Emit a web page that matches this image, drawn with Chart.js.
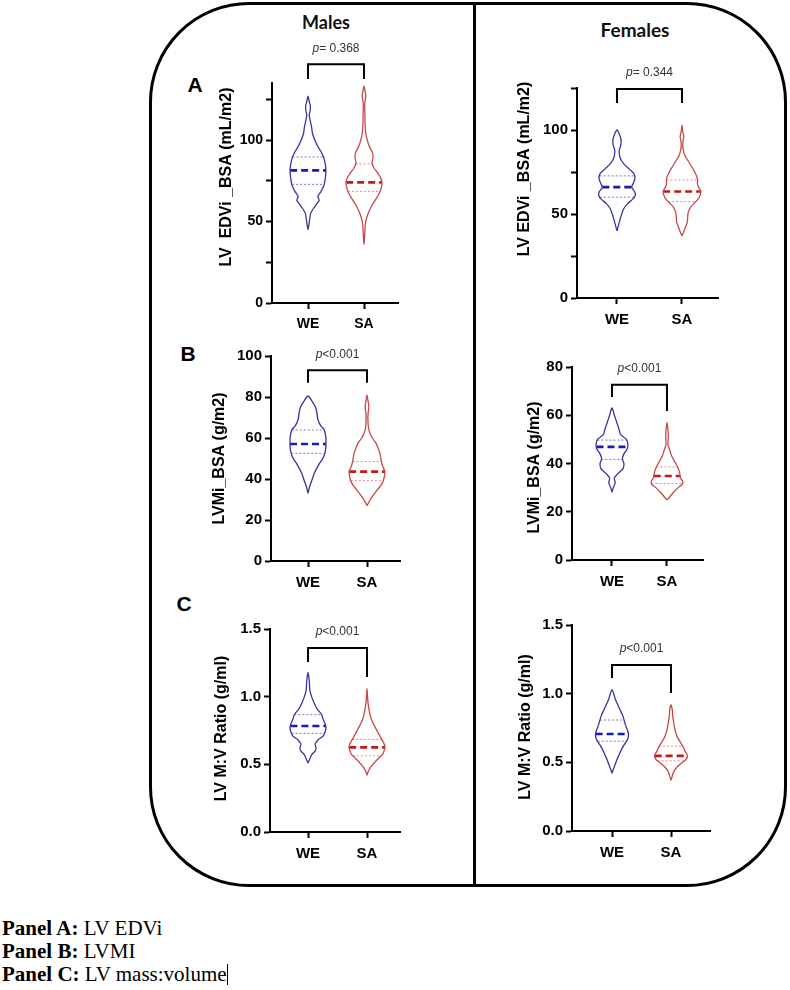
<!DOCTYPE html>
<html><head><meta charset="utf-8">
<script src="https://cdn.jsdelivr.net/npm/chart.js@4.4.1/dist/chart.umd.min.js"></script>
<style>
html,body{margin:0;padding:0;background:#fff;}
#page{position:relative;width:790px;height:990px;overflow:hidden;background:#fff;}
#frame{position:absolute;left:149px;top:2px;width:638px;height:885px;border:3px solid #000;border-radius:100px;box-sizing:border-box;}
#divider{position:absolute;left:473px;top:3px;width:2.5px;height:883px;background:#000;}
.hdr{position:absolute;font-family:Lato,"Open Sans",sans-serif;font-weight:700;color:#111;transform:translate(-50%,-50%);white-space:nowrap;}
.letter{position:absolute;font-family:"Liberation Sans",Arial,sans-serif;font-weight:700;font-size:21px;transform:translate(-50%,-50%);color:#000;}
canvas{position:absolute;}
#notes{position:absolute;left:2px;top:917px;font-family:"Liberation Serif","Times New Roman",serif;font-size:21px;line-height:23px;color:#000;white-space:nowrap;}
.caret{display:inline-block;width:1px;height:21px;background:#000;vertical-align:-4px;}
</style></head>
<body>
<div id="page">
  <div id="frame"></div>
  <div id="divider"></div>
  <div class="hdr" style="left:326px;top:22px;font-size:18px;">Males</div>
  <div class="hdr" style="left:635px;top:29px;font-size:19px;">Females</div>
  <div class="letter" style="left:195px;top:85px;">A</div>
  <div class="letter" style="left:188px;top:354px;">B</div>
  <div class="letter" style="left:184px;top:604px;">C</div>
  <div id="notes"><b>Panel A:</b> LV EDVi<br><b>Panel B:</b> LVMI<br><b>Panel C:</b> LV mass:volume<span class="caret"></span></div>
</div>
<script>
// ---------- DATA ----------
const groups = ['WE', 'SA'];

// violin outlines: [value, relative density width]
const maleA_WE = [[45,0],[48,0.05],[52,0.1],[55,0.15],[58,0.3],[61,0.5],[63,0.62],[65.5,0.55],[68,0.7],[71,0.85],[74,0.93],[78,0.98],[81,1.0],[84,0.98],[87,0.93],[90,0.85],[93,0.72],[96,0.55],[100,0.38],[104,0.25],[108,0.2],[112,0.12],[115.5,0.07],[118,0.12],[121,0.13],[124,0.06],[127,0]];
const maleA_SA = [[36,0],[40,0.03],[44,0.05],[48,0.07],[52,0.14],[56,0.27],[60,0.45],[64,0.68],[68,0.88],[71,0.97],[74.5,1.0],[77,0.92],[80,0.75],[83,0.55],[86,0.45],[89,0.5],[92,0.48],[96,0.3],[100,0.18],[104,0.1],[110,0.06],[116,0.05],[121,0.04],[124,0.06],[127,0.1],[130,0.06],[133,0]];
const femaleA_WE = [[40,0],[42,0.05],[45,0.12],[49,0.22],[53,0.35],[56,0.55],[59,0.85],[61,0.97],[63,0.95],[66,0.78],[68,0.85],[71,0.95],[74,0.9],[77,0.62],[80,0.35],[83,0.18],[86,0.12],[88,0.12],[91,0.2],[94,0.22],[97,0.14],[100,0]];
const femaleA_SA = [[37,0],[39,0.08],[42,0.18],[45,0.28],[48,0.3],[51,0.33],[54,0.45],[57,0.7],[60,0.92],[63.5,1.0],[66,0.88],[68,0.82],[71,0.82],[74,0.72],[78,0.52],[82,0.3],[85,0.15],[88,0.07],[91,0.04],[94,0.06],[96,0.1],[98,0.06],[100,0.03],[103,0]];
const maleB_WE = [[33,0],[36,0.08],[39,0.2],[43,0.36],[47,0.6],[50,0.82],[53,0.95],[57,1.0],[61,0.98],[64,0.9],[66,0.7],[69,0.55],[72,0.5],[75,0.42],[78,0.22],[80.5,0]];
const maleB_SA = [[27,0],[29,0.12],[31.5,0.3],[34.5,0.55],[37,0.78],[39.5,0.92],[43.5,1.0],[46,0.88],[48.5,0.8],[52.5,0.72],[55,0.62],[57.5,0.5],[60,0.3],[62,0.18],[65,0.08],[69,0.05],[72,0.06],[75,0.1],[77,0.08],[79,0.04],[81,0]];
const femaleB_WE = [[28,0],[30,0.08],[32,0.2],[34,0.15],[36,0.4],[38,0.7],[40,0.75],[42,0.65],[44,0.75],[46,0.95],[48,1.0],[50,0.9],[52,0.55],[54,0.45],[57,0.3],[60,0.15],[63,0]];
const femaleB_SA = [[25,0],[26,0.15],[28,0.4],[30,0.7],[31,0.9],[32,1.0],[33,0.95],[34,0.85],[36,0.8],[38,0.7],[40,0.55],[43,0.3],[46,0.15],[48,0.06],[51,0.08],[54,0.06],[57,0]];
const maleC_WE = [[0.51,0],[0.54,0.1],[0.57,0.2],[0.60,0.4],[0.62,0.45],[0.65,0.4],[0.68,0.55],[0.71,0.85],[0.74,0.95],[0.77,1.0],[0.80,0.95],[0.83,0.85],[0.87,0.75],[0.91,0.5],[0.95,0.35],[1.00,0.2],[1.05,0.1],[1.10,0.08],[1.14,0.05],[1.18,0]];
const maleC_SA = [[0.42,0],[0.45,0.08],[0.48,0.2],[0.51,0.4],[0.54,0.6],[0.57,0.85],[0.60,0.95],[0.63,1.0],[0.66,0.92],[0.70,0.75],[0.75,0.55],[0.80,0.35],[0.85,0.2],[0.90,0.12],[0.95,0.06],[1.00,0.03],[1.06,0]];
const femaleC_WE = [[0.42,0],[0.45,0.08],[0.48,0.18],[0.52,0.3],[0.56,0.45],[0.60,0.6],[0.64,0.8],[0.67,0.95],[0.70,1.0],[0.73,0.95],[0.76,0.85],[0.80,0.75],[0.84,0.65],[0.88,0.5],[0.92,0.35],[0.96,0.2],[1.00,0.1],[1.03,0]];
const femaleC_SA = [[0.37,0],[0.38,0.03],[0.41,0.1],[0.44,0.2],[0.47,0.4],[0.50,0.7],[0.52,0.9],[0.55,1.0],[0.58,0.85],[0.61,0.75],[0.64,0.6],[0.68,0.4],[0.72,0.28],[0.76,0.2],[0.80,0.15],[0.84,0.1],[0.88,0.08],[0.92,0]];

// quartiles [Q1, median, Q3]
const maleA_WE_q = [72.8, 81.4, 89.6];
const maleA_SA_q = [68.5, 74.0, 85.3];
const femaleA_WE_q = [60.0, 66.0, 72.7];
const femaleA_SA_q = [57.4, 63.4, 70.3];
const maleB_WE_q = [52.5, 57.1, 63.9];
const maleB_SA_q = [39.2, 43.6, 48.5];
const femaleB_WE_q = [41.7, 46.9, 49.7];
const femaleB_SA_q = [31.7, 34.8, 38.6];
const maleC_WE_q = [0.729, 0.783, 0.867];
const maleC_SA_q = [0.563, 0.625, 0.684];
const femaleC_WE_q = [0.654, 0.706, 0.808];
const femaleC_SA_q = [0.511, 0.547, 0.618];

// p-values
const pValues = ['= 0.368', '= 0.344', '<0.001', '<0.001', '<0.001', '<0.001'];

// axis ticks
const ticksEDV = [0, 25, 50, 75, 100, 125];
const labelsEDV = ['0', '', '50', '', '100', ''];
const ticksLVMmale = [0, 20, 40, 60, 80, 100];
const labelsLVMmale = ['0', '20', '40', '60', '80', '100'];
const ticksLVMfemale = [0, 20, 40, 60, 80];
const labelsLVMfemale = ['0', '20', '40', '60', '80'];
const ticksRatio = [0, 0.5, 1.0, 1.5];
const labelsRatio = ['0.0', '0.5', '1.0', '1.5'];

const yTitles = ['LV  EDVi _BSA (mL/m2)', 'LV EDVi _BSA (mL/m2)', 'LVMi_BSA (g/m2)', 'LVMi_BSA (g/m2)', 'LV M:V Ratio (g/ml)', 'LV M:V Ratio (g/ml)'];

// ---------- LAYOUT / STYLE ----------
const W = 70, T = 70, R = 10, H = 40;
const COL = {
  WE: {line: '#3535a2', med: '#1a1ab4', q: '#7a7ad0'},
  SA: {line: '#c84848', med: '#c41818', q: '#e58a8a'}
};
const panels = [
  {we: maleA_WE, sa: maleA_SA, weQ: maleA_WE_q, saQ: maleA_SA_q, ticks: ticksEDV, labels: labelsEDV, yMax: 135, fs: 14,
   box: {l: 272, t: 83, r: 398, b: 303}, xr: [0.357, 2.607], vw: 0.32, bracket: [146.5, 137.5, 137.5], tOff: 45, tDy: -16},
  {we: femaleA_WE, sa: femaleA_SA, weQ: femaleA_WE_q, saQ: femaleA_SA_q, ticks: ticksEDV, labels: labelsEDV, yMax: 125, fs: 15,
   box: {l: 577, t: 88, r: 718, b: 298}, xr: [0.385, 2.554], vw: 0.29, bracket: [124.4, 116, 116], tOff: 52, tDy: -24},
  {we: maleB_WE, sa: maleB_SA, weQ: maleB_WE_q, saQ: maleB_SA_q, ticks: ticksLVMmale, labels: labelsLVMmale, yMax: 100, fs: 15,
   box: {l: 271, t: 356, r: 400, b: 561}, xr: [0.373, 2.559], vw: 0.305, bracket: [93, 87, 87], tOff: 51, tDy: 0},
  {we: femaleB_WE, sa: femaleB_SA, weQ: femaleB_WE_q, saQ: femaleB_SA_q, ticks: ticksLVMfemale, labels: labelsLVMfemale, yMax: 80, fs: 15,
   box: {l: 572, t: 367, r: 703, b: 560}, xr: [0.273, 2.655], vw: 0.29, bracket: [72.6, 67.6, 61.8], tOff: 37, tDy: 4},
  {we: maleC_WE, sa: maleC_SA, weQ: maleC_WE_q, saQ: maleC_SA_q, ticks: ticksRatio, labels: labelsRatio, yMax: 1.5, fs: 15,
   box: {l: 270, t: 629, r: 400, b: 832}, xr: [0.356, 2.559], vw: 0.305, bracket: [1.36, 1.256, 1.146], tOff: 48, tDy: -2},
  {we: femaleC_WE, sa: femaleC_SA, weQ: femaleC_WE_q, saQ: femaleC_SA_q, ticks: ticksRatio, labels: labelsRatio, yMax: 1.5, fs: 15,
   box: {l: 572, t: 625, r: 710, b: 831}, xr: [0.322, 2.661], vw: 0.28, bracket: [1.209, 1.114, 1.005], tOff: 46, tDy: -1}
];

function widthAt(profile, v) {
  for (let i = 1; i < profile.length; i++) {
    const [y0, w0] = profile[i - 1], [y1, w1] = profile[i];
    if (v >= y0 && v <= y1) return w0 + (w1 - w0) * (v - y0) / (y1 - y0);
  }
  return 0;
}
function violinPoints(profile, c, half) {
  const right = profile.map(([y, w]) => ({x: c + w * half, y}));
  const left = profile.slice().reverse().map(([y, w]) => ({x: c - w * half, y}));
  return right.concat(left.slice(1));
}
function levelLine(profile, c, half, v) {
  const w = widthAt(profile, v) * half;
  return [{x: c - w, y: v}, {x: c + w, y: v}];
}

const annotPlugin = {
  id: 'annot',
  afterDraw(chart, args, o) {
    const {ctx, chartArea, scales: {x, y}} = chart;
    ctx.save();
    ctx.translate(chartArea.left - o.tOff, (chartArea.top + chartArea.bottom) / 2 + o.tDy);
    ctx.rotate(-Math.PI / 2);
    ctx.font = 'bold 16px "Liberation Sans", Arial, sans-serif';
    ctx.textAlign = 'center'; ctx.textBaseline = 'middle'; ctx.fillStyle = '#000';
    ctx.fillText(o.title, 0, 0);
    ctx.restore();
    // p value
    ctx.save();
    const cx = x.getPixelForValue(1.5);
    const cy = y.getPixelForValue(o.bracketTop) - 16;
    const f1 = 'italic 12px "Liberation Sans", Arial, sans-serif';
    const f2 = '12px "Liberation Sans", Arial, sans-serif';
    ctx.font = f1; const w1 = ctx.measureText('p').width;
    ctx.font = f2; const w2 = ctx.measureText(o.p).width;
    let sx = cx - (w1 + w2) / 2;
    ctx.fillStyle = '#333'; ctx.textBaseline = 'middle'; ctx.textAlign = 'left';
    ctx.font = f1; ctx.fillText('p', sx, cy);
    ctx.font = f2; ctx.fillText(o.p, sx + w1, cy);
    ctx.restore();
  }
};

const page = document.getElementById('page');
panels.forEach((p, i) => {
  const cv = document.createElement('canvas');
  const cw = W + (p.box.r - p.box.l) + R;
  const ch = T + (p.box.b - p.box.t) + H;
  cv.width = cw; cv.height = ch;
  cv.style.left = (p.box.l - W) + 'px';
  cv.style.top = (p.box.t - T) + 'px';
  cv.style.width = cw + 'px'; cv.style.height = ch + 'px';
  page.appendChild(cv);

  const half = p.vw;
  const ds = [];
  [['WE', p.we, p.weQ, 1], ['SA', p.sa, p.saQ, 2]].forEach(([g, prof, q, c]) => {
    ds.push({data: violinPoints(prof, c, half), showLine: true, borderColor: COL[g].line, borderWidth: 1.3,
             tension: 0.3, pointRadius: 0, fill: false});
    [q[0], q[2]].forEach(v => ds.push({data: levelLine(prof, c, half, v), showLine: true, borderColor: COL[g].q,
             borderWidth: 1, borderDash: [2, 2], pointRadius: 0}));
    ds.push({data: levelLine(prof, c, half, q[1]), showLine: true, borderColor: COL[g].med,
             borderWidth: 2.6, borderDash: [7, 4], pointRadius: 0});
  });
  ds.push({data: [{x: 1, y: p.bracket[1]}, {x: 1, y: p.bracket[0]}, {x: 2, y: p.bracket[0]}, {x: 2, y: p.bracket[2]}],
           showLine: true, borderColor: '#000', borderWidth: 2, pointRadius: 0, clip: false, tension: 0});

  const tickFont = {family: '"Liberation Sans", Arial, sans-serif', weight: 'bold', size: p.fs};
  new Chart(cv, {
    type: 'scatter',
    data: {datasets: ds},
    plugins: [annotPlugin],
    options: {
      responsive: false, animation: false, events: [],
      layout: {padding: {left: 0, top: T, right: R, bottom: 0}},
      plugins: {legend: {display: false}, tooltip: {enabled: false},
        annot: {title: yTitles[i], p: pValues[i], bracketTop: p.bracket[0], tOff: p.tOff, tDy: p.tDy}},
      scales: {
        x: {type: 'linear', min: p.xr[0], max: p.xr[1],
            afterBuildTicks: s => { s.ticks = [{value: 1}, {value: 2}]; },
            afterFit: s => { s.height = H; },
            ticks: {callback: v => groups[v - 1], font: tickFont, color: '#000', padding: 7, autoSkip: false, maxRotation: 0},
            grid: {drawOnChartArea: false, drawTicks: true, tickLength: 6, tickWidth: 2, tickColor: '#000'},
            border: {color: '#000', width: 2}},
        y: {type: 'linear', min: 0, max: p.yMax,
            afterBuildTicks: s => { s.ticks = p.ticks.map(v => ({value: v})); },
            afterFit: s => { s.width = W; },
            ticks: {callback: v => p.labels[p.ticks.indexOf(v)], font: tickFont, color: '#000', padding: 3, autoSkip: false},
            grid: {drawOnChartArea: false, drawTicks: true, tickLength: 6, tickWidth: 2, tickColor: '#000'},
            border: {color: '#000', width: 2}}
      }
    }
  });
});
</script>
</body></html>
